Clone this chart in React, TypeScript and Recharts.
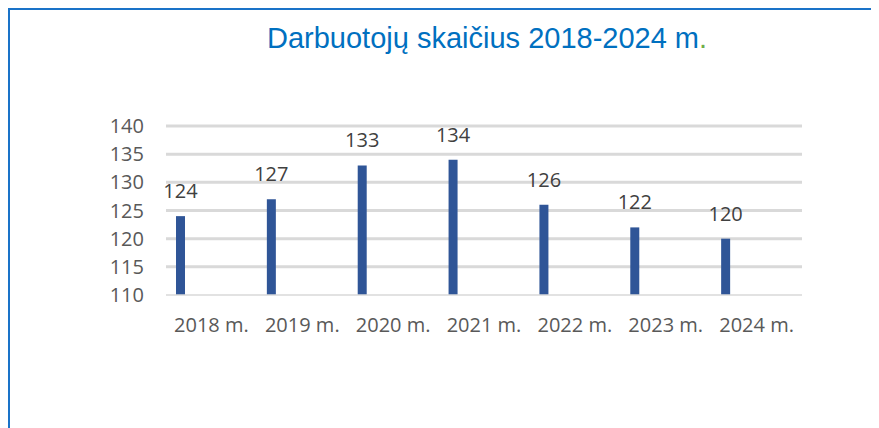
import React from 'react';
import { BarChart, Bar, XAxis, YAxis, CartesianGrid, LabelList } from 'recharts';

const years = ['2018 m.', '2019 m.', '2020 m.', '2021 m.', '2022 m.', '2023 m.', '2024 m.'];
const employees = [124, 127, 133, 134, 126, 122, 120];
// the source chart had two more (empty) series, which pushes the bar left of the label
const emptySeries = [null, null, null, null, null, null, null];
const yTicks = [110, 115, 120, 125, 130, 135, 140];
const gridValues = [115, 120, 125, 130, 135, 140];

const data = years.map((year, i) => ({
  year,
  employees: employees[i],
  s2: emptySeries[i],
  s3: emptySeries[i],
}));

const FONT = '"Open Sans", sans-serif';

export default function App() {
  return (
    <div
      style={{
        position: 'relative',
        width: 871,
        height: 420,
        boxSizing: 'border-box',
        borderTop: '2px solid #1a73c8',
        borderLeft: '2px solid #1a73c8',
        background: '#fff',
      }}
    >
      <div
        style={{
          position: 'absolute',
          left: 257,
          top: 14,
          fontFamily: '"Liberation Sans", Arial, sans-serif',
          fontSize: 29,
          lineHeight: '29px',
          color: '#0070c0',
          whiteSpace: 'nowrap',
        }}
      >
        Darbuotojų skaičius 2018-2024 m<span style={{ color: '#70ad47' }}>.</span>
      </div>
      <BarChart
        width={869}
        height={418}
        data={data}
        margin={{ top: 116, right: 77, bottom: 73, left: 0 }}
        barSize={9}
        barGap={22}
      >
        <CartesianGrid
          vertical={false}
          horizontalValues={gridValues}
          stroke="#d9d9d9"
          strokeWidth={3}
        />
        <XAxis
          dataKey="year"
          height={60}
          tickLine={false}
          tickSize={0}
          tickMargin={23}
          axisLine={{ stroke: '#d9d9d9', strokeWidth: 1.5 }}
          tick={{ fill: '#595959', fontSize: 20, fontFamily: FONT }}
          interval={0}
        />
        <YAxis
          width={156}
          domain={[110, 140]}
          ticks={yTicks}
          axisLine={false}
          tickLine={false}
          tickSize={0}
          tickMargin={22}
          tick={{ fill: '#595959', fontSize: 20, fontFamily: FONT }}
        />
        <Bar dataKey="employees" fill="#2f5597" isAnimationActive={false}>
          <LabelList
            dataKey="employees"
            position="top"
            offset={18}
            fill="#404040"
            fontSize={20}
            fontFamily={FONT}
          />
        </Bar>
        <Bar dataKey="s2" fill="#ed7d31" isAnimationActive={false} />
        <Bar dataKey="s3" fill="#a5a5a5" isAnimationActive={false} />
      </BarChart>
    </div>
  );
}
